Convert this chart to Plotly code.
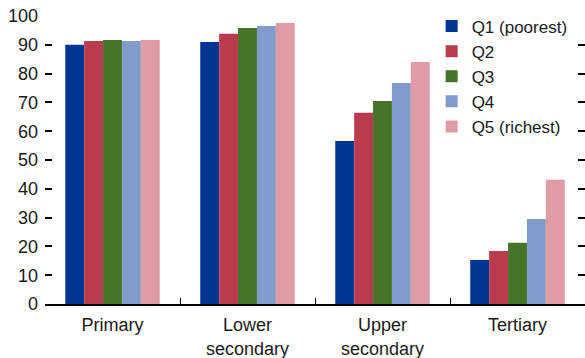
import plotly.graph_objects as go

categories = ["Primary", "Lower<br>secondary", "Upper<br>secondary", "Tertiary"]
series_names = ["Q1 (poorest)", "Q2", "Q3", "Q4", "Q5 (richest)"]
q1 = [90.0, 91.0, 56.6, 15.3]
q2 = [91.3, 93.8, 66.4, 18.4]
q3 = [91.7, 95.8, 70.5, 21.3]
q4 = [91.3, 96.5, 76.7, 29.5]
q5 = [91.7, 97.6, 84.0, 43.1]
colors = ["#003594", "#BA3B4D", "#477428", "#819CCA", "#DF9CA5"]
y_ticks = [0, 10, 20, 30, 40, 50, 60, 70, 80, 90, 100]

FONT = "Liberation Sans, Arial, sans-serif"

fig = go.Figure()
for name, vals, col in zip(series_names, [q1, q2, q3, q4, q5], colors):
    fig.add_trace(go.Bar(x=categories, y=vals, name=name, marker_color=col,
                         marker_line_width=0))

fig.update_layout(
    width=585, height=358,
    margin=dict(l=45, r=0, t=16, b=54, autoexpand=False),
    paper_bgcolor="white", plot_bgcolor="white",
    barmode="group", bargap=0.30, bargroupgap=0,
    font=dict(family=FONT, size=18, color="#1a1a1a"),
    showlegend=True,
    legend=dict(x=0.716, y=1.026, xanchor="left", yanchor="top",
                bgcolor="rgba(0,0,0,0)", font=dict(size=17),
                tracegroupgap=0, itemclick=False),
)
fig.update_xaxes(
    showline=True, linecolor="black", linewidth=1.5,
    ticks="inside", tickson="boundaries", ticklen=6, tickcolor="black",
    tickwidth=1.2, showgrid=False, zeroline=False, automargin=False,
    ticklabelstandoff=4,
)
fig.update_yaxes(
    range=[0, 100], tickvals=y_ticks, showline=False, showgrid=False,
    zeroline=False, ticks="inside", ticklen=7, tickcolor="black", tickwidth=1.5,
    mirror="ticks", ticklabelstandoff=6, automargin=False,
)

fig.write_html("out.html", config={"displayModeBar": False},
               post_script="document.body.style.margin='0';")
